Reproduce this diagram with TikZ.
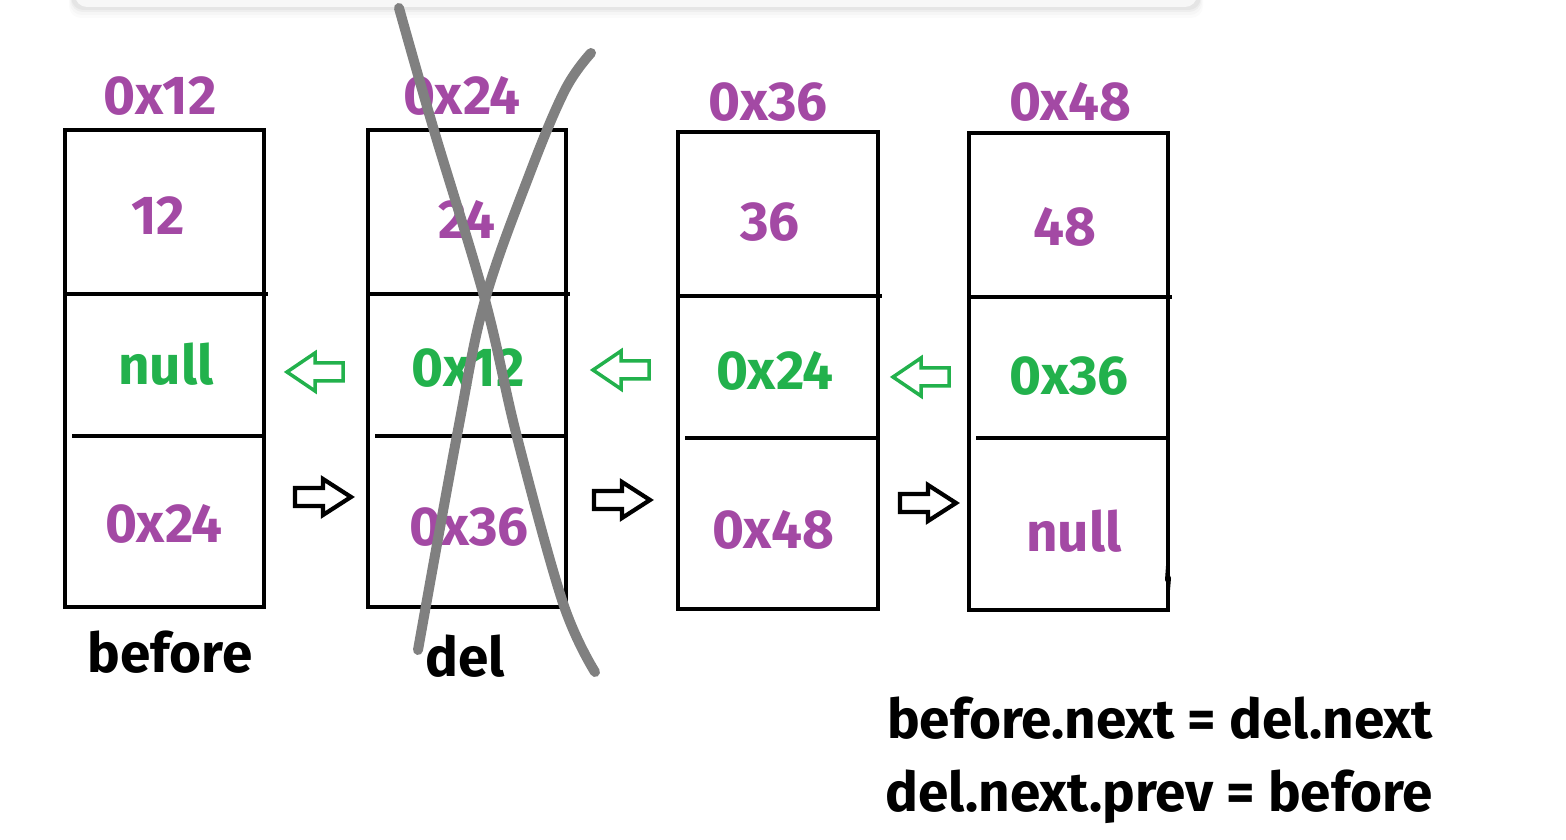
\documentclass[tikz,border=0pt]{standalone}
\usepackage{fontspec}
\setmainfont{Fira Sans}
\definecolor{ppurple}{RGB}{163,73,164}
\definecolor{pgreen}{RGB}{34,177,76}
\definecolor{xgray}{RGB}{128,128,128}
\tikzset{
  boxn/.style={draw, line width=0.4mm, inner sep=0pt, minimum height=4.77cm},
  divl/.style={line width=0.4mm},
  txt/.style={inner sep=0pt, font=\bfseries\fontsize{15.6}{18}\selectfont},
  pval/.style={txt, text=ppurple},
  gval/.style={txt, text=pgreen},
  bval/.style={txt, text=black},
  garrow/.style={draw=pgreen, line width=0.35mm, line join=miter},
  barrow/.style={draw=black, line width=0.42mm, line join=miter},
  xstroke/.style={draw=xgray, line width=1mm, line cap=round, line join=round}
}
\begin{document}
\begin{tikzpicture}[x=0.01cm, y=-0.01cm]
\useasboundingbox (0,0) rectangle (1566,840);
% top bar with soft shadow
\foreach \o/\a in {10/0.015, 7/0.02, 4/0.03, 2/0.04}{
  \fill[black, opacity=\a, rounded corners=0.12cm] (72-\o*0.3,-20) rectangle (1200+\o*0.3,8+\o);
}
\fill[black!3, rounded corners=0.12cm] (75,-20) rectangle (1197,7);

% boxes
\node[boxn, minimum width=1.99cm] (n1) at (164.5,368.5) {};
\node[boxn, minimum width=1.98cm] (n2) at (467,368.5) {};
\node[boxn, minimum width=2.00cm] (n3) at (778,370.5) {};
\node[boxn, minimum width=1.99cm] (n4) at (1068.5,371.5) {};

% dividers
\draw[divl] (65,294) -- (268,294);
\draw[divl] (72,436) -- (264,436);
\draw[divl] (368,294) -- (570,294);
\draw[divl] (375,436) -- (566,436);
\draw[divl] (678,296) -- (882,296);
\draw[divl] (685,438) -- (878,438);
\draw[divl] (969,297) -- (1172,297);
\draw[divl] (976,438) -- (1168,438);
\fill (1166,566) -- (1171,578) -- (1170,590) -- (1165,580) -- cycle;

% address labels
\node[pval] (a1) at (160,96) {0x12};
\node[pval] (a2) at (462,96) {0x24};
\node[pval] (a3) at (768,102) {0x36};
\node[pval] (a4) at (1070,102) {0x48};

% cell values
\node[pval] (v1) at (158,216) {12};
\node[gval] (p1) at (166,364) {null};
\node[pval] (x1) at (164,524) {0x24};
\node[pval] (v2) at (467,219) {24};
\node[gval] (p2) at (468,368) {0x12};
\node[pval] (x2) at (469,527) {0x36};
\node[pval] (v3) at (770,222) {36};
\node[gval] (p3) at (775,371) {0x24};
\node[pval] (x3) at (773,530) {0x48};
\node[pval] (v4) at (1065,227) {48};
\node[gval] (p4) at (1069,376) {0x36};
\node[pval] (x4) at (1074,531) {null};

% hollow arrows (prev: green, left; next: black, right)
\coordinate (g1) at (315,372);
\coordinate (g2) at (621,370);
\coordinate (g3) at (921,377);
\coordinate (r1) at (323,497);
\coordinate (r2) at (622,500);
\coordinate (r3) at (928,503);
\foreach \c in {g1,g2,g3}{
  \draw[garrow, shift={(\c)}] (-28,0) -- (0,-19) -- (0,-9) -- (28,-9) -- (28,9) -- (0,9) -- (0,19) -- cycle;
}
\foreach \c in {r1,r2,r3}{
  \draw[barrow, shift={(\c)}] (28,0) -- (0,-18) -- (0,-9) -- (-28,-9) -- (-28,9) -- (0,9) -- (0,18) -- cycle;
}

% names
\node[bval] (before) at (170,652) {before};
\node[bval] (del) at (465,656) {del};

% cross
\draw[xstroke] plot[smooth, tension=0.6] coordinates {(399,8) (433,127) (485,300) (517,437) (563,603) (595,672)};
\draw[xstroke] plot[smooth, tension=0.6] coordinates {(591,53) (565,90) (530,173) (485,300) (458,430) (418,650)};

% equations
\node[bval] (eq1) at (1160,718) {before.next = del.next};
\node[bval] (eq2) at (1159,797) {del.next.prev = before};
\end{tikzpicture}
\end{document}
